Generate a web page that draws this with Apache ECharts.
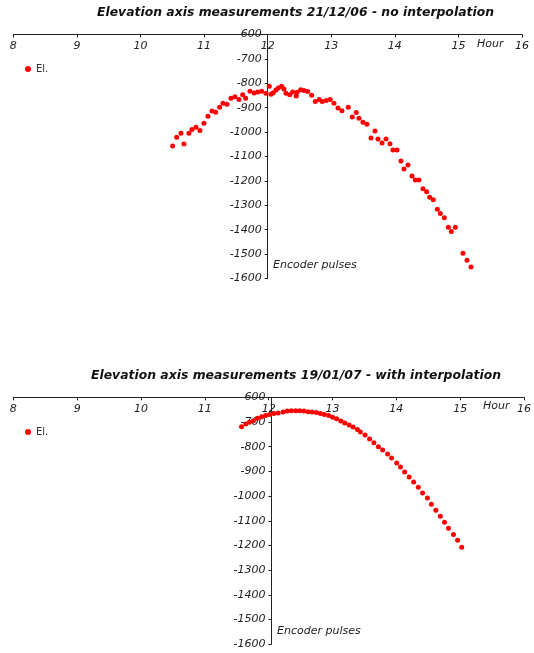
<!DOCTYPE html>
<html>
<head>
<meta charset="utf-8">
<script src="https://cdn.jsdelivr.net/npm/echarts@6/dist/echarts.min.js"></script>
<style>
html,body{margin:0;padding:0;background:#fff;}
#c{width:534px;height:653px;}
</style>
</head>
<body>
<div id="c"></div>
<script>
// ---- Data ----
const titleTop = 'Elevation axis measurements 21/12/06 - no interpolation';
const titleBottom = 'Elevation axis measurements 19/01/07 - with interpolation';
const seriesName = 'El.';
const xAxisName = 'Hour';
const yAxisName = 'Encoder pulses';

// Chart 1: 21/12/06 (no interpolation)
const hoursTop = [10.506,10.569,10.637,10.684,10.762,10.810,10.872,10.935,10.998,11.061,11.124,11.182,11.245,11.297,11.360,11.423,11.486,11.549,11.607,11.654,11.722,11.789,11.843,11.906,11.973,12.025,12.052,12.088,12.131,12.167,12.220,12.256,12.288,12.346,12.393,12.450,12.465,12.519,12.571,12.629,12.692,12.749,12.811,12.858,12.922,12.984,13.043,13.106,13.168,13.268,13.331,13.393,13.436,13.499,13.562,13.625,13.688,13.735,13.798,13.861,13.924,13.971,14.034,14.097,14.144,14.207,14.270,14.322,14.380,14.443,14.501,14.548,14.605,14.668,14.716,14.779,14.842,14.889,14.952,15.072,15.135,15.198];
const pulsesTop = [-1057,-1021,-1005,-1049,-1005,-989,-980,-993,-964,-935,-914,-919,-898,-882,-886,-861,-855,-866,-847,-861,-833,-840,-836,-833,-841,-812,-845,-839,-827,-819,-812,-823,-841,-847,-836,-852,-837,-826,-830,-834,-849,-875,-866,-875,-870,-866,-882,-901,-912,-898,-938,-920,-943,-960,-968,-1024,-995,-1028,-1045,-1028,-1048,-1073,-1073,-1118,-1151,-1135,-1180,-1196,-1196,-1232,-1244,-1267,-1277,-1316,-1334,-1351,-1390,-1407,-1390,-1497,-1525,-1553];

// Chart 2: 19/01/07 (with interpolation)
const hoursBottom = [11.575,11.642,11.699,11.761,11.823,11.890,11.952,12.014,12.082,12.149,12.226,12.289,12.355,12.424,12.486,12.552,12.619,12.681,12.749,12.811,12.873,12.940,13.002,13.064,13.131,13.193,13.261,13.323,13.390,13.437,13.511,13.581,13.649,13.720,13.786,13.863,13.925,14.006,14.065,14.130,14.201,14.271,14.344,14.411,14.487,14.550,14.619,14.690,14.755,14.817,14.895,14.960,15.024];
const pulsesBottom = [-719,-708,-701,-695,-685,-679,-674,-670,-666,-664,-660,-655,-654,-654,-654,-655,-658,-660,-662,-666,-670,-674,-681,-687,-696,-704,-712,-720,-730,-740,-753,-769,-784,-800,-813,-830,-846,-866,-882,-902,-923,-943,-964,-987,-1008,-1033,-1057,-1082,-1106,-1130,-1155,-1179,-1207];

const xMin = 8, xMax = 16, xStep = 1;
const yMin = -1600, yMax = -600, yStep = 100;

// ---- Chart ----
const FONT = 'DejaVu Sans';
const chart = echarts.init(document.getElementById('c'), null, {renderer: 'canvas'});

const gridsPx = [
  {left: 13.3, right: 12, top: 34.5, height: 244, crossAt: 267.7},
  {left: 13.3, right: 4.8, top: 397.3, height: 247, crossAt: 271.4}
];

function xAxisCfg(i) {
  return {
    type: 'value', gridIndex: i, position: 'top',
    min: xMin, max: xMax, interval: xStep,
    axisLine: {show: true, lineStyle: {color: '#222', width: 1}},
    axisTick: {show: true, inside: true, length: 3, lineStyle: {color: '#222'}},
    axisLabel: {inside: true, margin: 6, color: '#222', fontFamily: FONT, fontStyle: 'italic', fontSize: 11,
                formatter: v => String(v)},
    splitLine: {show: false}
  };
}
function yAxisCfg(i) {
  const g = gridsPx[i];
  return {
    type: 'value', gridIndex: i, position: 'left',
    offset: -(g.crossAt - g.left),
    min: yMin, max: yMax, interval: yStep,
    axisLine: {show: true, lineStyle: {color: '#222', width: 1}},
    axisTick: {show: true, length: 3, lineStyle: {color: '#222'}},
    axisLabel: {margin: 6, color: '#222', fontFamily: FONT, fontStyle: 'italic', fontSize: 11,
                formatter: v => String(v)},
    splitLine: {show: false}
  };
}

function pairs(xs, ys) { return xs.map((x, k) => [x, ys[k]]); }

const txt = (x, y, text) => ({
  type: 'text', left: x, top: y,
  style: {text: text, font: 'italic 11px "' + FONT + '"', fill: '#222'}
});

const titleStyle = {fontFamily: FONT, fontSize: 12.4, fontWeight: 'bold', fontStyle: 'italic', color: '#111'};

chart.setOption({
  animation: false,
  backgroundColor: '#fff',
  title: [
    {text: titleTop, left: 97, top: 7, padding: 0, textStyle: titleStyle},
    {text: titleBottom, left: 91, top: 370, padding: 0, textStyle: titleStyle}
  ],
  legend: [
    {data: [seriesName], left: 25, top: 64, padding: 0, icon: 'circle', itemWidth: 6, itemHeight: 6, itemGap: 4,
     textStyle: {fontFamily: FONT, fontSize: 10, color: '#333'}},
    {data: [seriesName], left: 25, top: 427, padding: 0, icon: 'circle', itemWidth: 6, itemHeight: 6, itemGap: 4,
     textStyle: {fontFamily: FONT, fontSize: 10, color: '#333'}}
  ],
  grid: gridsPx.map(g => ({left: g.left, right: g.right, top: g.top, height: g.height, containLabel: false})),
  xAxis: [xAxisCfg(0), xAxisCfg(1)],
  yAxis: [yAxisCfg(0), yAxisCfg(1)],
  series: [
    {name: seriesName, type: 'scatter', xAxisIndex: 0, yAxisIndex: 0, data: pairs(hoursTop, pulsesTop),
     symbol: 'circle', symbolSize: 5, itemStyle: {color: '#FF0000', opacity: 1}},
    {name: seriesName, type: 'scatter', xAxisIndex: 1, yAxisIndex: 1, data: pairs(hoursBottom, pulsesBottom),
     symbol: 'circle', symbolSize: 5, itemStyle: {color: '#FF0000', opacity: 1}}
  ],
  graphic: [
    txt(477, 39, xAxisName),
    txt(273, 260, yAxisName),
    txt(483, 401, xAxisName),
    txt(277, 626, yAxisName)
  ]
});
</script>
</body>
</html>
